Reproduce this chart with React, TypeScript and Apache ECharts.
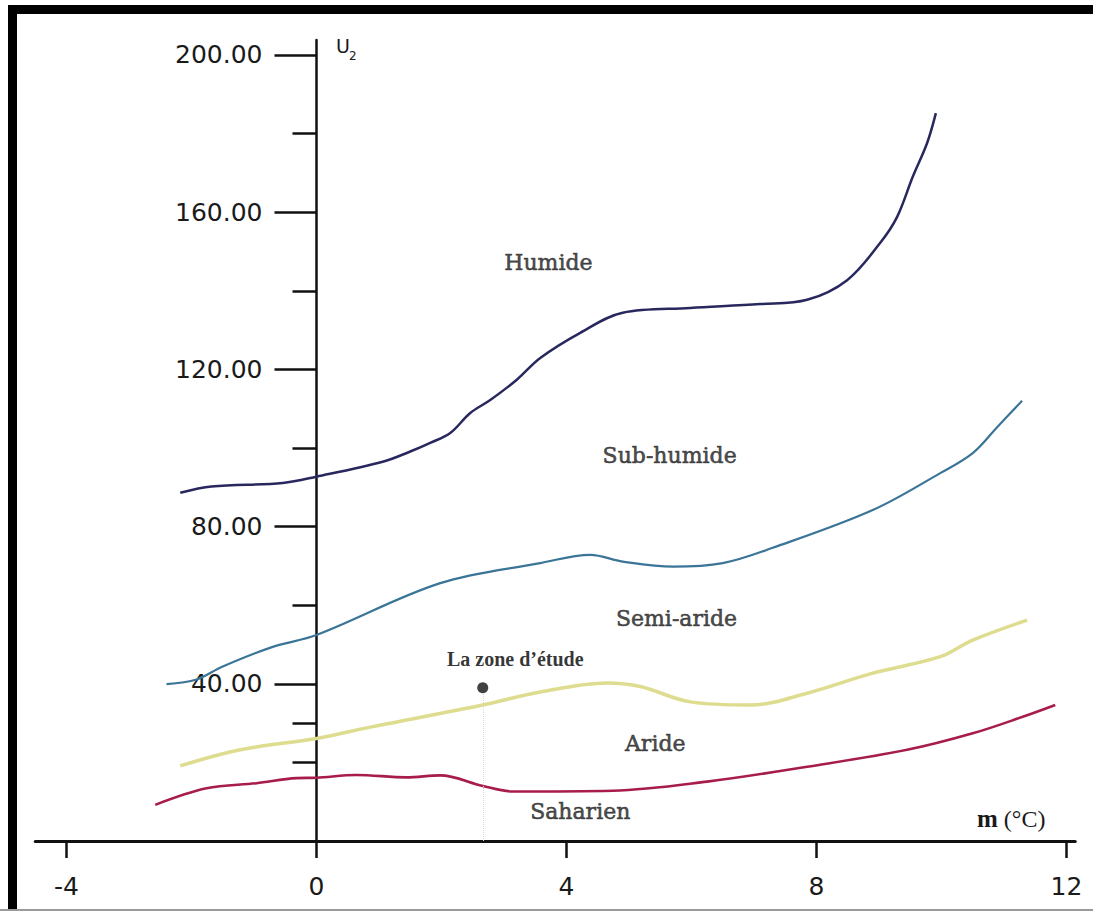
import React, { useEffect, useRef } from "react";
import * as echarts from "echarts";

// Boundary curves (x = m in °C, y = Q2)
const humide: [number, number][] = [
  [-2.18, 88.6], [-1.68, 90.2], [-0.54, 91.1], [0, 92.7], [1.06, 96.5], [1.5, 99.1],
  [1.82, 101.3], [2.14, 103.8], [2.46, 108.9], [2.78, 112.2], [3.2, 117.3], [3.58, 122.9],
  [4.22, 129.3], [4.9, 134.4], [5.98, 135.6], [7.1, 136.6], [7.85, 137.7], [8.49, 142.7],
  [9.02, 152.2], [9.29, 158.8], [9.54, 169.0], [9.77, 177.6], [9.91, 185.2],
];
const subHumide: [number, number][] = [
  [-2.4, 39.9], [-1.92, 41.1], [-1.5, 44.4], [-0.7, 49.4], [0, 52.4], [1.98, 65.6],
  [3.58, 70.7], [4.38, 72.8], [4.9, 71.1], [5.7, 69.8], [6.5, 70.7], [7.3, 74.6],
  [8.9, 84.2], [9.98, 93.6], [10.5, 98.7], [10.89, 105.3], [11.29, 112.0],
];
const semiAride: [number, number][] = [
  [-2.18, 19.1], [-1.22, 23.2], [0, 26.1], [0.9, 29.1], [2.66, 34.6], [3.58, 37.9],
  [4.65, 40.2], [5.18, 39.3], [5.98, 35.4], [6.94, 34.6], [7.85, 37.6], [8.9, 42.7],
  [9.98, 46.9], [10.5, 51.1], [11.37, 56.2],
];
const aride: [number, number][] = [
  [-2.58, 9.2], [-1.76, 13.4], [-0.96, 14.7], [-0.32, 16.0], [0, 16.1], [0.64, 16.8],
  [1.44, 16.2], [1.98, 16.7], [2.66, 14.0], [3.14, 12.6], [4.74, 12.8], [6.25, 15.1],
  [7.85, 18.9], [9.45, 23.2], [10.5, 27.4], [11.3, 31.6], [11.82, 34.6],
];

const xTickValues = [-4, 0, 4, 8, 12];
const yLabelValues = [40, 80, 120, 160, 200];
const yMinorTicks = [20, 30, 60, 100, 140, 180];

const zoneNames = ["Humide", "Sub-humide", "Semi-aride", "Aride", "Saharien"];
const zoneX = [3.71, 5.65, 5.76, 5.42, 4.22];
const zoneY = [147.3, 98.2, 56.5, 24.9, 7.4];

const studyZone: [number, number] = [2.66, 39.0];
const studyLabel = "La zone d\u2019\u00e9tude";
const studyLabelPos: [number, number] = [3.18, 46.3];

const X_MIN = -4.5;
const X_MAX = 12.14;
const Y_MIN = 0;
const Y_MAX = 203.8;

export default function App() {
  const ref = useRef<HTMLDivElement>(null);
  useEffect(() => {
    document.body.style.margin = "0";
    const chart = echarts.init(ref.current as HTMLDivElement, null, { renderer: "svg" });
    const axisColor = "#111111";
    const gridBox = { top: 40, bottom: 72, containLabel: false, outerBoundsMode: "none" };
    chart.setOption({
      animation: false,
      backgroundColor: "#ffffff",
      grid: [
        { ...gridBox, left: 35.25, right: 17.75 },
        { ...gridBox, left: 316.5, right: 17.75 },
      ],
      xAxis: [
        {
          type: "value",
          gridIndex: 0,
          min: X_MIN,
          max: X_MAX,
          splitLine: { show: false },
          axisLine: { show: true, onZero: false, lineStyle: { color: axisColor, width: 3 } },
          axisTick: { show: true, customValues: xTickValues, length: 17, lineStyle: { color: axisColor, width: 2.5 } },
          axisLabel: {
            customValues: xTickValues,
            margin: 33,
            fontSize: 25,
            fontFamily: "DejaVu Sans",
            color: "#1a1a1a",
          },
        },
        { type: "value", gridIndex: 1, min: 0, max: 1, show: false },
      ],
      yAxis: [
        { type: "value", gridIndex: 0, min: Y_MIN, max: Y_MAX, show: false },
        {
          type: "value",
          gridIndex: 1,
          min: Y_MIN,
          max: Y_MAX,
          position: "left",
          splitLine: { show: false },
          axisLine: { show: true, onZero: false, lineStyle: { color: axisColor, width: 2.5 } },
          axisTick: { show: true, customValues: yLabelValues, length: 42, lineStyle: { color: axisColor, width: 2.5 } },
          axisLabel: {
            customValues: yLabelValues,
            margin: 54,
            fontSize: 25,
            fontFamily: "DejaVu Sans",
            color: "#1a1a1a",
            formatter: (v: number) => v.toFixed(2),
          },
        },
        {
          type: "value",
          gridIndex: 1,
          min: Y_MIN,
          max: Y_MAX,
          position: "left",
          splitLine: { show: false },
          axisLine: { show: false, onZero: false },
          axisTick: { show: true, customValues: yMinorTicks, length: 24, lineStyle: { color: axisColor, width: 2.5 } },
          axisLabel: { show: false },
        },
      ],
      series: [
        {
          name: "Humide",
          type: "line",
          data: humide,
          smooth: 0.35,
          symbol: "none",
          lineStyle: { color: "#28285e", width: 2.5 },
          z: 3,
        },
        {
          name: "Sub-humide",
          type: "line",
          data: subHumide,
          smooth: 0.35,
          symbol: "none",
          lineStyle: { color: "#3a7597", width: 2.2 },
          z: 3,
        },
        {
          name: "Semi-aride",
          type: "line",
          data: semiAride,
          smooth: 0.35,
          symbol: "none",
          lineStyle: { color: "#dedc8e", width: 3.5 },
          z: 3,
        },
        {
          name: "Aride",
          type: "line",
          data: aride,
          smooth: 0.35,
          symbol: "none",
          lineStyle: { color: "#a81c4c", width: 2.6 },
          z: 3,
        },
        {
          name: "zone",
          type: "scatter",
          data: [studyZone],
          symbol: "circle",
          symbolSize: 11,
          itemStyle: { color: "#111111" },
          z: 5,
          markLine: {
            silent: true,
            symbol: "none",
            label: { show: false },
            lineStyle: { color: "#d6d6d6", width: 1, type: "dotted" },
            data: [[{ coord: [studyZone[0], 0] }, { coord: studyZone }]],
          },
        },
        {
          name: "labels",
          type: "scatter",
          symbolSize: 0,
          data: zoneNames.map((n, i) => ({ name: n, value: [zoneX[i], zoneY[i]] })),
          label: {
            show: true,
            position: "inside",
            formatter: (p: any) => p.name,
            fontFamily: "DejaVu Serif",
            fontSize: 22,
            color: "#1e1e1e",
            textBorderColor: "#2a2a2a",
            textBorderWidth: 0.6,
          },
          z: 4,
        },
        {
          name: "studyLabel",
          type: "scatter",
          symbolSize: 0,
          data: [{ name: studyLabel, value: studyLabelPos }],
          label: {
            show: true,
            position: "inside",
            formatter: (p: any) => p.name,
            fontFamily: "Liberation Serif",
            fontWeight: "bold",
            fontSize: 20,
            color: "#000000",
          },
          z: 4,
        },
      ],
      graphic: [
        { type: "rect", shape: { x: 8, y: 5, width: 1085, height: 9 }, style: { fill: "#000" }, z: 100 },
        { type: "rect", shape: { x: 8, y: 5, width: 9, height: 905 }, style: { fill: "#000" }, z: 100 },
        { type: "rect", shape: { x: 0, y: 909, width: 1093, height: 2 }, style: { fill: "#9a9a9a" }, z: 100 },
        {
          type: "text",
          x: 336,
          y: 36,
          style: { text: "U", fontSize: 19, fontFamily: "DejaVu Sans", fill: "#1a1a1a" },
          z: 100,
        },
        {
          type: "text",
          x: 349,
          y: 50,
          style: { text: "2", fontSize: 12, fontFamily: "DejaVu Sans", fill: "#1a1a1a" },
          z: 100,
        },
        {
          type: "text",
          x: 977,
          y: 806,
          style: {
            text: "{b|m} (\u00b0C)",
            fontSize: 24,
            fontFamily: "Liberation Serif",
            fill: "#1a1a1a",
            rich: { b: { fontWeight: "bold", fontSize: 25, fontFamily: "Liberation Serif", fill: "#1a1a1a" } },
          },
          z: 100,
        },
      ],
    });
    return () => chart.dispose();
  }, []);
  return <div ref={ref} style={{ width: 1093, height: 913, background: "#fff" }} />;
}
